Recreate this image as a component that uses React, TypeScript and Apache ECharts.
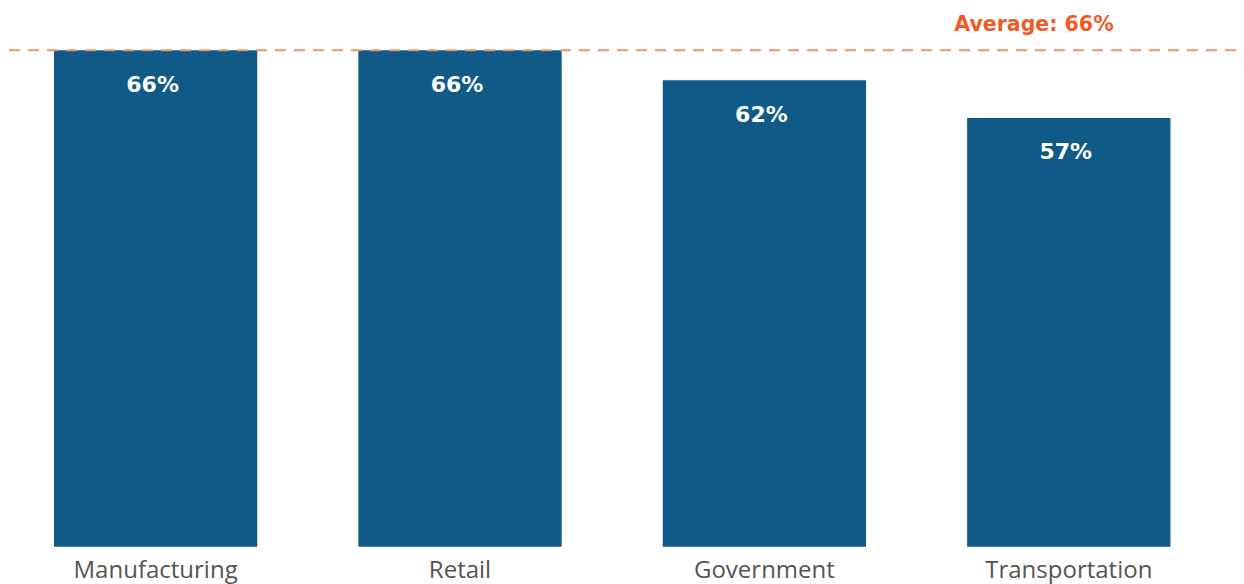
import React, { useEffect, useRef } from "react";
import * as echarts from "echarts";

const categories = ["Manufacturing", "Retail", "Government", "Transportation"];
const values = [66, 66, 62, 57];
const averageValue = 66;
const averageLabel = "Average: 66%";

export default function App() {
  const ref = useRef<HTMLDivElement>(null);
  useEffect(() => {
    if (!ref.current) return;
    const chart = echarts.init(ref.current, null, { renderer: "svg" });
    chart.setOption({
      animation: false,
      backgroundColor: "#ffffff",
      grid: { left: 3.4, top: 0, width: 1217.6, height: 546.7, containLabel: false },
      xAxis: {
        type: "category",
        data: categories,
        axisLine: { show: false },
        axisTick: { show: false },
        axisLabel: {
          color: "#555555",
          fontFamily: "Open Sans",
          fontSize: 24,
          margin: 10,
        },
      },
      yAxis: {
        type: "value",
        min: 0,
        max: 72.68,
        show: false,
        splitLine: { show: false },
      },
      series: [
        {
          type: "bar",
          data: values,
          barWidth: "66.8%",
          itemStyle: { color: "#105a87" },
          label: {
            show: true,
            position: "insideTop",
            distance: 23,
            offset: [-3, 0],
            formatter: "{c}%",
            color: "#ffffff",
            fontFamily: "DejaVu Sans",
            fontWeight: "bold",
            fontSize: 22,
          },
        },
      ],
    });
    const y = chart.convertToPixel({ yAxisIndex: 0 }, averageValue) as number;
    chart.setOption({
      graphic: [
        {
          type: "line",
          shape: { x1: 9, y1: y, x2: 1244, y2: y },
          style: { stroke: "#f29369", lineWidth: 2, lineDash: [11, 8] },
          z: 100,
        },
        {
          type: "text",
          x: 1034,
          y: y - 26,
          style: {
            text: averageLabel,
            fill: "#f05a24",
            font: "bold 20.5px 'DejaVu Sans'",
            align: "center",
            verticalAlign: "middle",
          },
          z: 100,
        },
      ],
    });
    return () => chart.dispose();
  }, []);
  return (
    <div
      ref={ref}
      style={{ position: "absolute", left: 0, top: 0, width: 1244, height: 584 }}
    />
  );
}
